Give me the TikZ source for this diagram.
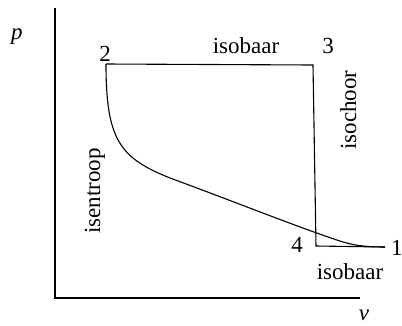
\documentclass[tikz,border=0pt]{standalone}
\usepackage{fontspec}
\setmainfont{Liberation Serif}
\begin{document}
\begin{tikzpicture}[x=1pt,y=-1pt,
  lbl/.style={font=\fontsize{23}{27}\selectfont, inner sep=0pt},
  curve/.style={line width=1.1pt},
  axis/.style={line width=1.3pt}]
\useasboundingbox (0,0) rectangle (402,325);
% axes
\coordinate (ytop) at (55,8);
\coordinate (org) at (55,298);
\coordinate (xend) at (360,298);
\draw[axis] (ytop) -- (org) -- (xend);
% state points
\coordinate (p2) at (106,64);
\coordinate (p3) at (313,65);
\coordinate (p4) at (316,246);
\coordinate (p1) at (385,247);
\draw[curve] (p2) -- (p3) -- (p4) -- (p1);
\draw[curve] (p2) .. controls (106,140) and (120,158) .. (170,178)
  .. controls (230,200) and (300,228) .. (340,241)
  .. controls (355,246) and (368,247) .. (p1);
% labels
\node[lbl, font=\fontsize{23}{27}\selectfont\itshape] (lp) at (17,37) {p};
\node[lbl, font=\fontsize{23}{27}\selectfont\itshape] (lv) at (364,315) {v};
\node[lbl, anchor=base] (l2) at (105,61) {2};
\node[lbl, anchor=base] (l3) at (328,53) {3};
\node[lbl, anchor=base] (l4) at (297,252) {4};
\node[lbl, anchor=base west] (l1) at (391,255) {1};
\node[lbl, anchor=base] (lib1) at (246,53) {isobaar};
\node[lbl, anchor=base] (lib2) at (350,279) {isobaar};
\node[lbl, rotate=90, anchor=base] (lich) at (356,110) {isochoor};
\node[lbl, rotate=90, anchor=base] (lis) at (100,191) {isentroop};
\end{tikzpicture}
\end{document}
